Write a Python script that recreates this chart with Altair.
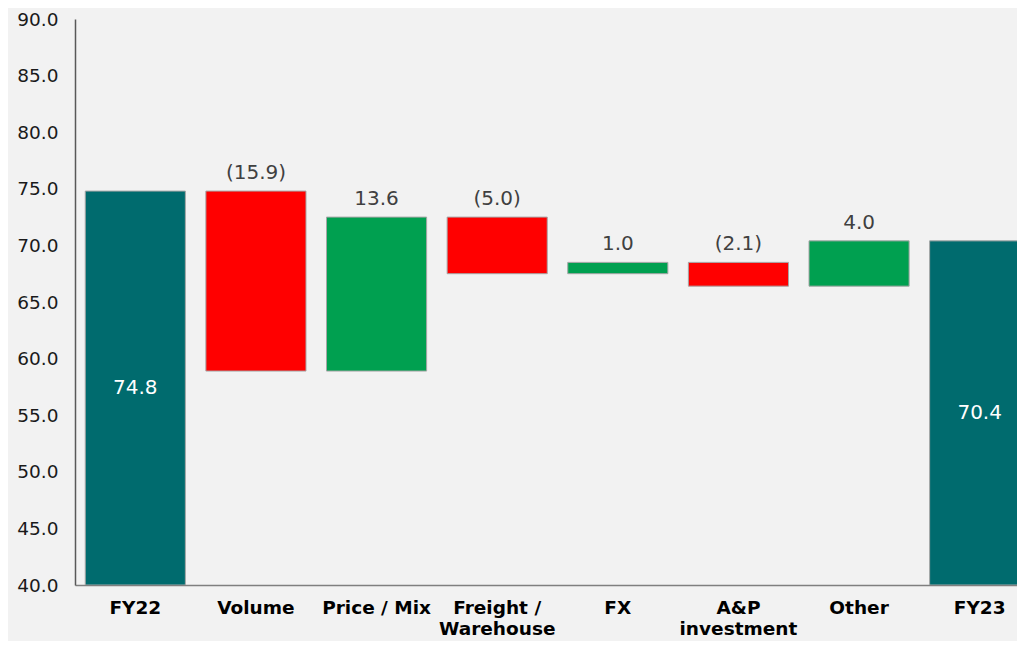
import altair as alt
import pandas as pd

categories = ["FY22", "Volume", "Price / Mix", "Freight / Warehouse", "FX",
              "A&P investment", "Other", "FY23"]
axis_labels = ["FY22", "Volume", "Price / Mix", "Freight /|Warehouse", "FX",
               "A&P|investment", "Other", "FY23"]
values = [74.8, -15.9, 13.6, -5.0, 1.0, -2.1, 4.0, 70.4]
kinds = ["total", "delta", "delta", "delta", "delta", "delta", "delta", "total"]

AXIS_MIN, AXIS_MAX = 40, 90

rows = []
running = 0.0
for cat, lab, v, k in zip(categories, axis_labels, values, kinds):
    if k == "total":
        start, end = AXIS_MIN, v
        running = v
        color = "total"
        text = f"{v:.1f}"
    else:
        start, end = running, running + v
        running = end
        color = "up" if v >= 0 else "down"
        text = f"{v:.1f}" if v >= 0 else f"({abs(v):.1f})"
    rows.append(dict(cat=lab, start=start, end=end, top=max(start, end),
                     mid=(start + end) / 2, kind=k, color=color, text=text))
df = pd.DataFrame(rows)

FONT = "DejaVu Sans"

x = alt.X("cat:N", sort=axis_labels,
          scale=alt.Scale(range=[0, 965], paddingInner=0.17, paddingOuter=0.085),
          axis=alt.Axis(title=None, labelAngle=0, ticks=False, labelPadding=13,
                        labelFont=FONT, labelFontSize=18.5, labelFontWeight="bold",
                        labelColor="#000000", labelLineHeight=21,
                        labelExpr="split(datum.label, '|')",
                        domainColor="#7f7f7f", domainWidth=1.5))

bars = alt.Chart(df).mark_bar(stroke="#a6a6a6", strokeWidth=1, clip=True).encode(
    x=x,
    y=alt.Y("start:Q", scale=alt.Scale(domain=[AXIS_MIN, AXIS_MAX], nice=False, zero=False),
            axis=alt.Axis(title=None, values=list(range(40, 91, 5)), format=".1f",
                          ticks=False, grid=False, labelPadding=17,
                          labelFont=FONT, labelFontSize=18.5, labelColor="#1a1a1a",
                          domainColor="#595959", domainWidth=1.5)),
    y2="end:Q",
    color=alt.Color("color:N", legend=None,
                    scale=alt.Scale(domain=["total", "up", "down"],
                                    range=["#006B6E", "#00A050", "#FF0000"])),
)

delta_labels = alt.Chart(df).transform_filter("datum.kind == 'delta'").mark_text(
    font=FONT, fontSize=20, color="#404040", baseline="middle", dy=-18
).encode(x=x, y="top:Q", text="text:N")

total_labels = alt.Chart(df).transform_filter("datum.kind == 'total'").mark_text(
    font=FONT, fontSize=20, color="#ffffff", baseline="middle"
).encode(x=x, y="mid:Q", text="text:N")

chart = alt.layer(bars, delta_labels, total_labels).properties(
    width=942, height=566,
    autosize=alt.AutoSizeParams(type="none"),
    padding={"left": 67, "top": 11, "right": 0, "bottom": 56},
    background="#F2F2F2",
).configure_view(stroke=None)

chart.save("out.html", embed_options={"renderer": "svg", "actions": False})
